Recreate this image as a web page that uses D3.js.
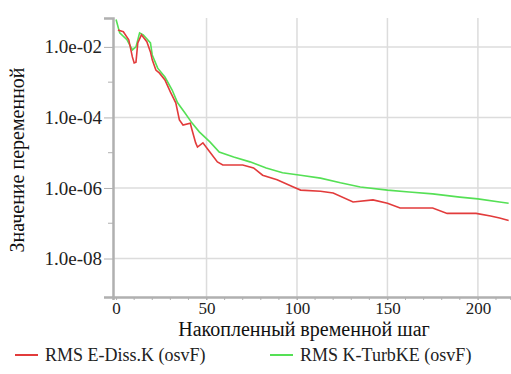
<!DOCTYPE html>
<html>
<head>
<meta charset="utf-8">
<script src="https://d3js.org/d3.v7.min.js"></script>
</head>
<body style="margin:0;background:#fff">
<script>
// steps and values
const redSteps = [1, 4, 7, 9, 10, 11, 12, 14, 17, 19, 20, 22, 24, 27, 30, 33, 35, 37, 41, 42, 44, 45, 48, 51, 56, 59, 70, 76, 81, 89, 98, 102, 113, 120, 131, 142, 150, 157, 175, 183, 199, 207, 212, 217];
const redValues = [3.0e-2, 2.7e-2, 1.6e-2, 5.2e-3, 3.5e-3, 3.7e-3, 1.3e-2, 2.2e-2, 1.4e-2, 7.2e-3, 4.3e-3, 2.2e-3, 1.8e-3, 1.15e-3, 5.3e-4, 2.6e-4, 8.5e-5, 6.1e-5, 6.9e-5, 4.4e-5, 1.9e-5, 1.45e-5, 1.9e-5, 1.2e-5, 5.5e-6, 4.5e-6, 4.5e-6, 3.7e-6, 2.3e-6, 1.7e-6, 1.07e-6, 8.7e-7, 8.1e-7, 7.2e-7, 4.0e-7, 4.6e-7, 3.7e-7, 2.7e-7, 2.7e-7, 1.9e-7, 1.9e-7, 1.6e-7, 1.4e-7, 1.2e-7];

const greenSteps = [0, 2, 6, 9, 11, 13, 15, 19, 20, 23, 27, 31, 34, 38, 42, 46, 52, 57, 65, 74, 83, 92, 102, 113, 124, 135, 150, 162, 175, 190, 200, 212, 217];
const greenValues = [6.0e-2, 2.5e-2, 1.6e-2, 8.2e-3, 1.0e-2, 2.5e-2, 2.2e-2, 1.3e-2, 5.9e-3, 2.5e-3, 1.4e-3, 6.0e-4, 2.6e-4, 1.35e-4, 6.9e-5, 3.9e-5, 2.0e-5, 1.05e-5, 7.6e-6, 5.5e-6, 3.7e-6, 2.7e-6, 2.3e-6, 1.9e-6, 1.4e-6, 1.07e-6, 8.7e-7, 7.7e-7, 6.8e-7, 5.5e-7, 4.9e-7, 4.0e-7, 3.7e-7];

const seriesNames = ["RMS E-Diss.K (osvF)", "RMS K-TurbKE (osvF)"];
const seriesColors = ["#e23b3b", "#55e055"];

const xTicks = [0, 50, 100, 150, 200];
const yTicks = [1e-2, 1e-4, 1e-6, 1e-8];
const yMinor = [1e-3, 1e-5, 1e-7];
const yTickLabels = ["1.0e-02", "1.0e-04", "1.0e-06", "1.0e-08"];

const xTitle = "Накопленный временной шаг";
const yTitle = "Значение переменной";

const serif = "font-family: 'Liberation Serif', serif";
const width = 511, height = 374;
const plotLeft = 113, plotRight = 511, plotTop = 18, plotBottom = 297;

const svg = d3.select("body").append("svg")
    .attr("width", width)
    .attr("height", height);

const x = d3.scaleLinear().domain([-1.7, 218.3]).range([plotLeft, plotRight]);
const y = d3.scaleLog().domain([8.1e-10, 6.6e-2]).range([plotBottom, plotTop]);

svg.append("defs").append("clipPath").attr("id", "plot")
    .append("rect").attr("x", plotLeft).attr("y", plotTop)
    .attr("width", plotRight - plotLeft).attr("height", plotBottom - plotTop);

// grid
svg.append("g").selectAll("line").data(xTicks.slice(1)).join("line")
    .attr("x1", d => x(d)).attr("x2", d => x(d))
    .attr("y1", plotTop).attr("y2", plotBottom)
    .attr("stroke", "#dcdcdc").attr("stroke-width", 1.5);
svg.append("g").selectAll("line").data(yTicks).join("line")
    .attr("x1", plotLeft).attr("x2", plotRight)
    .attr("y1", d => y(d)).attr("y2", d => y(d))
    .attr("stroke", "#dcdcdc").attr("stroke-width", 1.5);

// y axis
const yAxis = svg.append("g").attr("transform", `translate(${plotLeft},0)`)
    .call(d3.axisLeft(y).tickValues(yTicks).tickFormat((d, i) => yTickLabels[i]).tickSize(9).tickPadding(2));
yAxis.select(".domain").attr("stroke", "#b0b0b0").attr("stroke-width", 2.5);
yAxis.selectAll(".tick line").attr("stroke", "#b0b0b0");
yAxis.selectAll(".tick text").attr("style", serif).attr("font-size", 19).attr("fill", "#222");
svg.append("g").selectAll("line").data(yMinor).join("line")
    .attr("x1", plotLeft - 5).attr("x2", plotLeft)
    .attr("y1", d => y(d)).attr("y2", d => y(d))
    .attr("stroke", "#b0b0b0");

// x axis
const xAxis = svg.append("g").attr("transform", `translate(0,${plotBottom})`)
    .call(d3.axisBottom(x).tickValues(xTicks).tickSize(3).tickPadding(2));
xAxis.select(".domain").attr("stroke", "#b0b0b0").attr("stroke-width", 2.5);
xAxis.selectAll(".tick line").attr("stroke", "#b0b0b0");
xAxis.selectAll(".tick text").attr("style", serif).attr("font-size", 17).attr("fill", "#222");
svg.append("g").selectAll("line").data(d3.range(10, 220, 10)).join("line")
    .attr("x1", d => x(d)).attr("x2", d => x(d))
    .attr("y1", plotBottom).attr("y2", plotBottom + 3)
    .attr("stroke", "#b0b0b0");

// series
const series = [
  { steps: redSteps, values: redValues },
  { steps: greenSteps, values: greenValues }
];
const line = d3.line().x(d => x(d[0])).y(d => y(d[1]));
const plot = svg.append("g").attr("clip-path", "url(#plot)");
series.slice().reverse().forEach((s, j) => {
  const i = series.length - 1 - j;
  plot.append("path")
      .datum(s.steps.map((st, k) => [st, s.values[k]]))
      .attr("fill", "none")
      .attr("stroke", seriesColors[i])
      .attr("stroke-width", 1.6)
      .attr("d", line);
});

// titles
svg.append("text")
    .attr("x", 304).attr("y", 336)
    .attr("text-anchor", "middle").attr("font-size", 20)
    .attr("style", serif).attr("fill", "#111")
    .text(xTitle);
svg.append("text")
    .attr("transform", "translate(24,160) rotate(-90)")
    .attr("text-anchor", "middle").attr("font-size", 20)
    .attr("style", serif).attr("fill", "#111")
    .text(yTitle);

// legend
const legendX = [15, 270];
const lg = svg.append("g").selectAll("g").data(seriesNames).join("g")
    .attr("transform", (d, i) => `translate(${legendX[i]},355)`);
lg.append("line").attr("x1", 0).attr("x2", 23)
    .attr("stroke", (d, i) => seriesColors[i]).attr("stroke-width", 2);
lg.append("text").attr("x", 30).attr("y", 6).attr("font-size", 18)
    .attr("style", serif).attr("fill", "#222")
    .text(d => d);
</script>
</body>
</html>
